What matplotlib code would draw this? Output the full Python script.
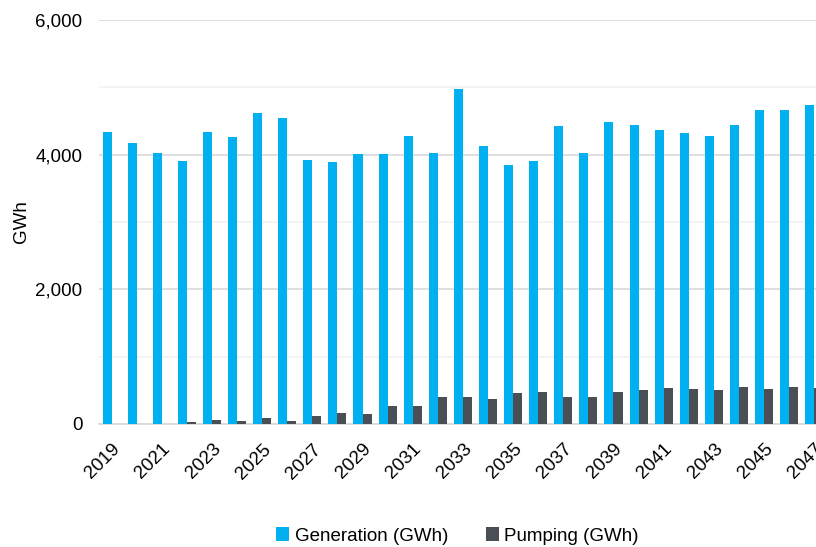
import matplotlib
matplotlib.use("Agg")
import matplotlib.pyplot as plt
from matplotlib.ticker import FuncFormatter, MultipleLocator
import numpy as np

plt.rcParams['font.family'] = ['Liberation Sans', 'DejaVu Sans']

years = list(range(2019, 2048))
generation = [4332, 4168, 4029, 3901, 4341, 4257, 4614, 4549, 3915, 3886,
              4005, 4005, 4282, 4029, 4975, 4133, 3841, 3906, 4420, 4019,
              4480, 4435, 4366, 4326, 4277, 4435, 4663, 4658, 4732]
pumping = [0, 0, 5, 30, 54, 45, 89, 45, 114, 168,
           148, 267, 267, 401, 401, 366, 455, 480, 396, 396,
           480, 505, 530, 515, 505, 554, 525, 554, 540]
tick_years = years[::2]

GEN_COLOR = '#00B0F0'
PUMP_COLOR = '#4A4F55'

fig = plt.figure(figsize=(8.16, 5.47), dpi=100)
ax = fig.add_axes([99 / 816, (547 - 424) / 547, (816 - 99) / 816, (424 - 20) / 547])

x = np.arange(len(years))
w = 0.36
ax.bar(x - w / 2, generation, width=w, color=GEN_COLOR, label='Generation (GWh)', zorder=3)
ax.bar(x + w / 2, pumping, width=w, color=PUMP_COLOR, label='Pumping (GWh)', zorder=3)

ax.set_xlim(-0.5, 28.07)
ax.set_ylim(0, 6000)

ax.yaxis.set_major_locator(MultipleLocator(2000))
ax.yaxis.set_minor_locator(MultipleLocator(1000))
ax.yaxis.set_major_formatter(FuncFormatter(lambda v, p: f'{int(v):,}'))
ax.grid(axis='y', which='major', color='#D9D9D9', linewidth=1.2, zorder=0)
ax.grid(axis='y', which='minor', color='#F2F2F2', linewidth=1.2, zorder=0)
ax.set_axisbelow(True)

tick_pos = [years.index(y) for y in tick_years]
ax.set_xticks(tick_pos)
ax.set_xticklabels([str(y) for y in tick_years], rotation=45, ha='right',
                   rotation_mode='anchor', fontsize=13.5)
ax.tick_params(axis='x', length=0, pad=12)
ax.tick_params(axis='y', which='both', length=0, pad=12, labelsize=13.5)

for s in ['top', 'right', 'left']:
    ax.spines[s].set_visible(False)
ax.spines['bottom'].set_color('#D9D9D9')
ax.spines['bottom'].set_linewidth(1.2)

ax.set_ylabel('GWh', fontsize=13.5)
ax.yaxis.set_label_coords(-0.096, 0.5)

fig.legend(loc='center', bbox_to_anchor=(457.5 / 816, 1 - 536 / 547), ncol=2,
           frameon=False, fontsize=13.5, handlelength=0.7, handleheight=0.7,
           handletextpad=0.3, columnspacing=2.0)

fig.savefig('out.png', dpi=100)
